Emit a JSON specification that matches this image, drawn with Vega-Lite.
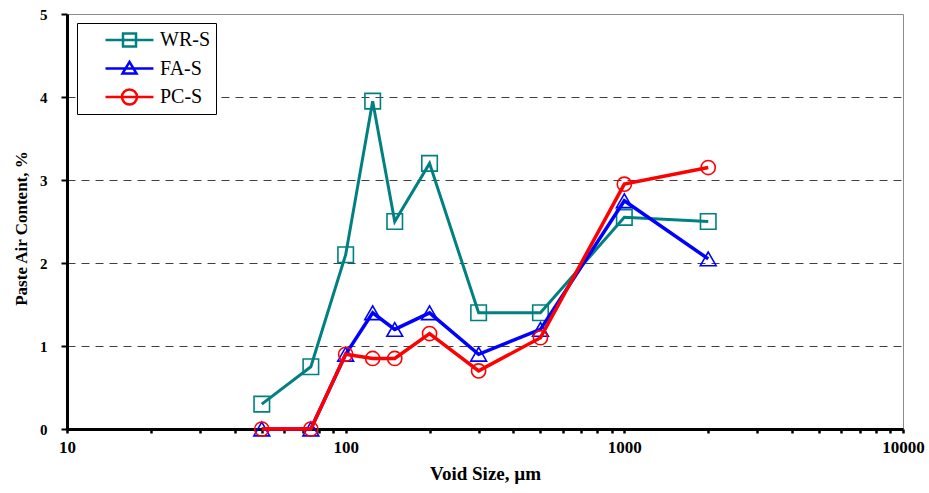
{
  "$schema": "https://vega.github.io/schema/vega-lite/v6.json",
  "width": 836,
  "height": 415,
  "autosize": {"type": "none"},
  "padding": {"left": 67, "top": 14, "right": 26, "bottom": 64},
  "background": "white",
  "config": {
    "font": "Liberation Serif",
    "view": {"stroke": "#8c8c8c", "strokeWidth": 1}
  },
  "data": {
    "values": [
      {"series": "WR-S", "size": 50, "air": 0.3},
      {"series": "WR-S", "size": 75, "air": 0.75},
      {"series": "WR-S", "size": 100, "air": 2.1},
      {"series": "WR-S", "size": 125, "air": 3.95},
      {"series": "WR-S", "size": 150, "air": 2.5},
      {"series": "WR-S", "size": 200, "air": 3.2},
      {"series": "WR-S", "size": 300, "air": 1.4},
      {"series": "WR-S", "size": 500, "air": 1.4},
      {"series": "WR-S", "size": 1000, "air": 2.55},
      {"series": "WR-S", "size": 2000, "air": 2.5},
      {"series": "FA-S", "size": 50, "air": 0},
      {"series": "FA-S", "size": 75, "air": 0},
      {"series": "FA-S", "size": 100, "air": 0.9},
      {"series": "FA-S", "size": 125, "air": 1.4},
      {"series": "FA-S", "size": 150, "air": 1.2},
      {"series": "FA-S", "size": 200, "air": 1.4},
      {"series": "FA-S", "size": 300, "air": 0.9},
      {"series": "FA-S", "size": 500, "air": 1.2},
      {"series": "FA-S", "size": 1000, "air": 2.75},
      {"series": "FA-S", "size": 2000, "air": 2.05},
      {"series": "PC-S", "size": 50, "air": 0},
      {"series": "PC-S", "size": 75, "air": 0},
      {"series": "PC-S", "size": 100, "air": 0.9},
      {"series": "PC-S", "size": 125, "air": 0.85},
      {"series": "PC-S", "size": 150, "air": 0.85},
      {"series": "PC-S", "size": 200, "air": 1.15},
      {"series": "PC-S", "size": 300, "air": 0.7},
      {"series": "PC-S", "size": 500, "air": 1.1},
      {"series": "PC-S", "size": 1000, "air": 2.95},
      {"series": "PC-S", "size": 2000, "air": 3.15}
    ]
  },
  "encoding": {
    "x": {
      "field": "size",
      "type": "quantitative",
      "scale": {"type": "log", "domain": [10, 10000], "nice": false},
      "axis": {
        "title": "Void Size, µm",
        "values": [10, 20, 30, 40, 50, 60, 70, 80, 90, 100, 200, 300, 400, 500, 600, 700, 800, 900, 1000, 2000, 3000, 4000, 5000, 6000, 7000, 8000, 9000, 10000],
        "labelExpr": "(datum.value == 10 || datum.value == 100 || datum.value == 1000 || datum.value == 10000) ? format(datum.value, 'd') : ''",
        "labelFont": "Liberation Serif",
        "labelFontWeight": "bold",
        "labelFontSize": 17,
        "labelColor": "black",
        "labelPadding": 6,
        "labelFlush": false,
        "labelOverlap": false,
        "domainColor": "black",
        "domainWidth": 3,
        "tickColor": "black",
        "tickWidth": 2.5,
        "tickSize": 4,
        "grid": false,
        "titleFont": "Liberation Serif",
        "titleFontWeight": "bold",
        "titleFontSize": 19,
        "titleColor": "black",
        "titlePadding": 9
      }
    },
    "y": {
      "field": "air",
      "type": "quantitative",
      "scale": {"domain": [0, 5], "nice": false, "zero": true},
      "axis": {
        "title": "Paste Air Content, %",
        "values": [0, 1, 2, 3, 4, 5],
        "format": "d",
        "labelFont": "Liberation Serif",
        "labelFontWeight": "bold",
        "labelFontSize": 15,
        "labelColor": "black",
        "labelPadding": 14,
        "labelFlush": false,
        "domainColor": "black",
        "domainWidth": 3,
        "tickColor": "black",
        "tickWidth": 2,
        "tickSize": 6,
        "grid": true,
        "gridColor": "#404040",
        "gridDash": [8, 6],
        "gridWidth": 1,
        "gridOpacity": {"condition": {"test": "datum.value == 0 || datum.value == 5", "value": 0}, "value": 1},
        "titleFont": "Liberation Serif",
        "titleFontWeight": "bold",
        "titleFontSize": 17,
        "titleColor": "black",
        "titlePadding": 9,
        "titleY": 214
      }
    }
  },
  "layer": [
    {
      "mark": {"type": "point", "filled": false, "opacity": 1, "size": 0},
      "encoding": {
        "color": {
          "field": "series",
          "type": "nominal",
          "scale": {"domain": ["WR-S", "FA-S", "PC-S"], "range": ["#008080", "#0000ff", "#ff0000"]},
          "legend": {
            "orient": "none",
            "legendX": 10,
            "legendY": 9,
            "title": null,
            "symbolSize": 4900,
            "symbolStrokeWidth": 2.5,
            "symbolFillColor": "transparent",
            "labelFont": "Liberation Serif",
            "labelFontSize": 20,
            "labelColor": "black",
            "labelOffset": 4,
            "padding": 6,
            "clipHeight": 22,
            "rowPadding": 6.5,
            "strokeColor": "black",
            "fillColor": "white"
          }
        },
        "shape": {
          "field": "series",
          "type": "nominal",
          "scale": {
            "domain": ["WR-S", "FA-S", "PC-S"],
            "range": [
              "M-0.4,0H0.97M0.1,-0.186H0.472V0.186H0.1Z",
              "M-0.4,0H0.97M0.286,-0.19L0.486,0.143H0.086Z",
              "M-0.4,0H0.97M0.5,0A0.214,0.214,0,1,1,0.072,0A0.214,0.214,0,1,1,0.5,0Z"
            ]
          },
          "legend": {
            "orient": "none",
            "legendX": 10,
            "legendY": 9,
            "title": null,
            "symbolSize": 4900,
            "symbolStrokeWidth": 2.5,
            "symbolFillColor": "transparent",
            "labelFont": "Liberation Serif",
            "labelFontSize": 20,
            "labelColor": "black",
            "labelOffset": 4,
            "padding": 6,
            "clipHeight": 22,
            "rowPadding": 6.5,
            "strokeColor": "black",
            "fillColor": "white"
          }
        }
      }
    },
    {
      "transform": [{"filter": "datum.series == 'WR-S'"}],
      "layer": [
        {"mark": {"type": "line", "strokeWidth": 3, "color": "#008080"}, "encoding": {}},
        {"mark": {"type": "point", "shape": "square", "size": 240, "strokeWidth": 1.6, "filled": false, "opacity": 1, "color": "#008080"}}
      ]
    },
    {
      "transform": [{"filter": "datum.series == 'FA-S'"}],
      "layer": [
        {"mark": {"type": "line", "strokeWidth": 3.5, "color": "#0000ff"}, "encoding": {}},
        {"mark": {"type": "point", "shape": "triangle-up", "size": 250, "strokeWidth": 1.6, "filled": false, "opacity": 1, "color": "#0000ff"}}
      ]
    },
    {
      "transform": [{"filter": "datum.series == 'PC-S'"}],
      "layer": [
        {"mark": {"type": "line", "strokeWidth": 3.5, "color": "#ff0000"}, "encoding": {}},
        {"mark": {"type": "point", "shape": "circle", "size": 200, "strokeWidth": 1.6, "filled": false, "opacity": 1, "color": "#ff0000"}}
      ]
    }
  ]
}
